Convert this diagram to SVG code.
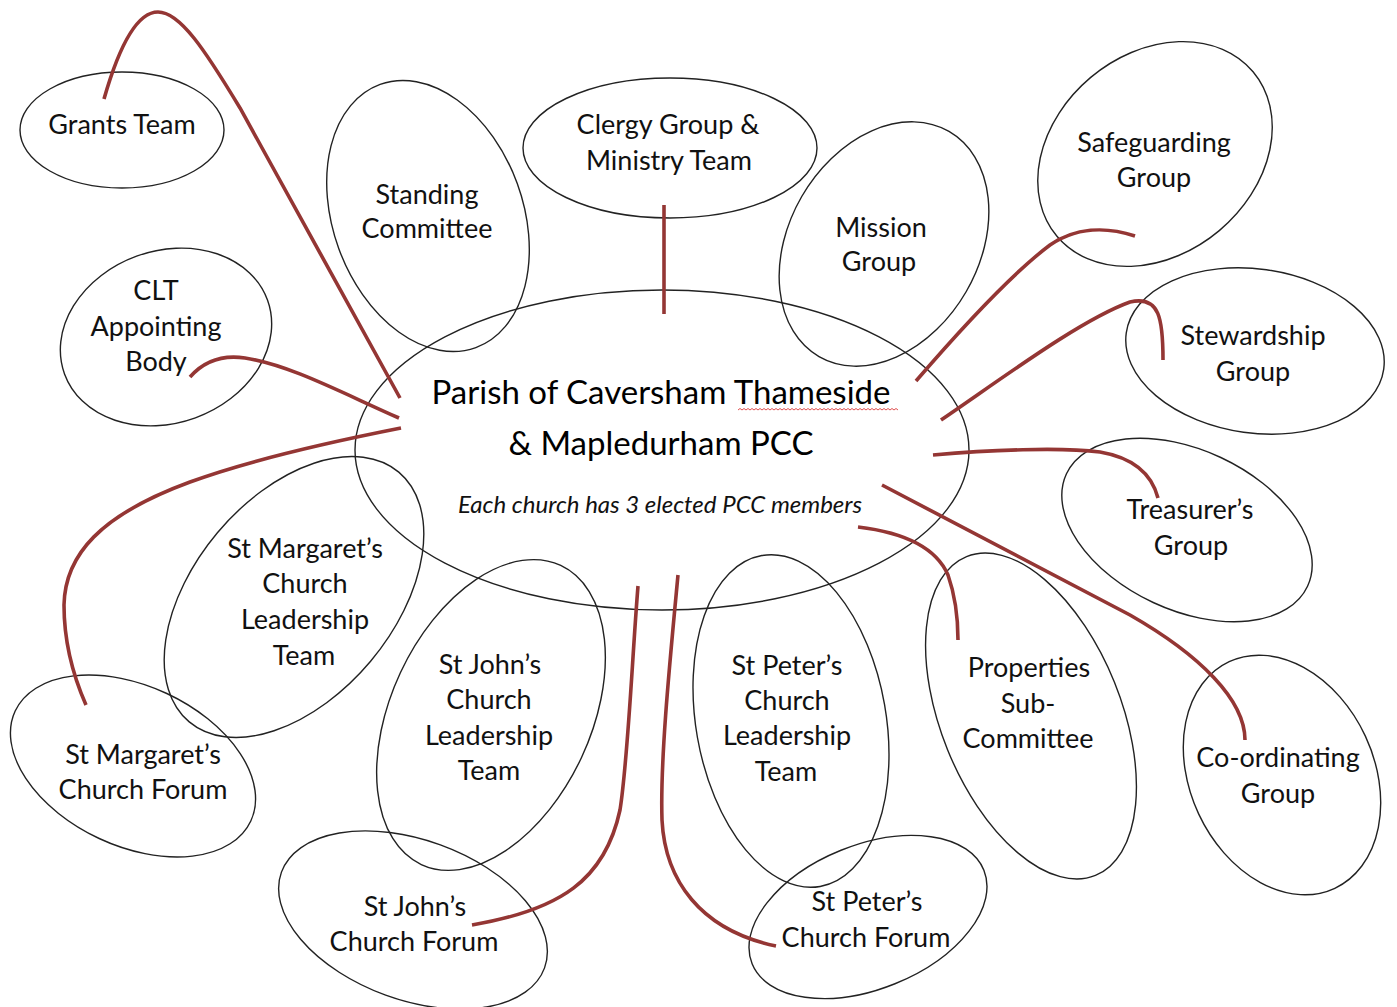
<svg xmlns="http://www.w3.org/2000/svg" width="1397" height="1007" viewBox="0 0 1397 1007">
<style>
.n{fill:none;stroke:#222;stroke-width:1.4}
.t{font-family:Lato,"Open Sans","Liberation Sans",sans-serif;font-size:27px;fill:#111;text-anchor:middle}
.c{fill:none;stroke:#943634;stroke-width:3.6;stroke-linecap:butt}
.h{font-family:Lato,"Open Sans","Liberation Sans",sans-serif;font-size:33px;fill:#000;text-anchor:middle}
.i{font-family:Lato,"Open Sans","Liberation Sans",sans-serif;font-size:24px;font-style:italic;fill:#111;text-anchor:middle}
</style>
<rect width="1397" height="1007" fill="#fff"/>
<g id="pcc">
<ellipse class="n" cx="662" cy="450" rx="307" ry="160"/>
<text class="h" x="661" y="404">Parish of Caversham Thameside</text>
<text class="h" x="661" y="455">&amp; Mapledurham PCC</text>
<text class="i" x="660" y="513">Each church has 3 elected PCC members</text>
<path fill="none" stroke="#e05050" stroke-width="1" d="M738,410 l2,-1.5 l2,1.5 l2,-1.5 l2,1.5 l2,-1.5 l2,1.5 l2,-1.5 l2,1.5 l2,-1.5 l2,1.5 l2,-1.5 l2,1.5 l2,-1.5 l2,1.5 l2,-1.5 l2,1.5 l2,-1.5 l2,1.5 l2,-1.5 l2,1.5 l2,-1.5 l2,1.5 l2,-1.5 l2,1.5 l2,-1.5 l2,1.5 l2,-1.5 l2,1.5 l2,-1.5 l2,1.5 l2,-1.5 l2,1.5 l2,-1.5 l2,1.5 l2,-1.5 l2,1.5 l2,-1.5 l2,1.5 l2,-1.5 l2,1.5 l2,-1.5 l2,1.5 l2,-1.5 l2,1.5 l2,-1.5 l2,1.5 l2,-1.5 l2,1.5 l2,-1.5 l2,1.5 l2,-1.5 l2,1.5 l2,-1.5 l2,1.5 l2,-1.5 l2,1.5 l2,-1.5 l2,1.5 l2,-1.5 l2,1.5 l2,-1.5 l2,1.5 l2,-1.5 l2,1.5 l2,-1.5 l2,1.5 l2,-1.5 l2,1.5 l2,-1.5 l2,1.5 l2,-1.5 l2,1.5 l2,-1.5 l2,1.5 l2,-1.5 l2,1.5 l2,-1.5 l2,1.5 l2,-1.5 l2,1.5"/>
</g>
<g id="grants">
<ellipse class="n" cx="122" cy="130" rx="102" ry="58"/>
<text class="t" x="122" y="134">Grants Team</text>
</g>
<g id="standing">
<ellipse class="n" cx="428" cy="216" rx="95" ry="140" transform="rotate(-20 428 216)"/>
<text class="t" x="427" y="204">Standing</text>
<text class="t" x="427" y="238">Committee</text>
</g>
<g id="clergy">
<ellipse class="n" cx="670" cy="148" rx="147" ry="70"/>
<text class="t" x="668" y="134">Clergy Group &amp;</text>
<text class="t" x="669" y="170">Ministry Team</text>
</g>
<g id="mission">
<ellipse class="n" cx="884" cy="244" rx="95" ry="130" transform="rotate(30 884 244)"/>
<text class="t" x="881" y="237">Mission</text>
<text class="t" x="879" y="271">Group</text>
</g>
<g id="safeguarding">
<ellipse class="n" cx="1155" cy="154" rx="100" ry="128" transform="rotate(50 1155 154)"/>
<text class="t" x="1154" y="152">Safeguarding</text>
<text class="t" x="1154" y="187">Group</text>
</g>
<g id="clt">
<ellipse class="n" cx="166" cy="337" rx="108" ry="86" transform="rotate(-20 166 337)"/>
<text class="t" x="156" y="300">CLT</text>
<text class="t" x="156" y="336">Appointing</text>
<text class="t" x="156" y="371">Body</text>
</g>
<g id="stewardship">
<ellipse class="n" cx="1255" cy="351" rx="130" ry="82" transform="rotate(8 1255 351)"/>
<text class="t" x="1253" y="345">Stewardship</text>
<text class="t" x="1253" y="381">Group</text>
</g>
<g id="treasurer">
<ellipse class="n" cx="1187" cy="530" rx="133" ry="80" transform="rotate(25 1187 530)"/>
<text class="t" x="1190" y="519">Treasurer’s</text>
<text class="t" x="1191" y="555">Group</text>
</g>
<g id="stm-clt">
<ellipse class="n" cx="294" cy="597" rx="100" ry="163" transform="rotate(40 294 597)"/>
<text class="t" x="305" y="558">St Margaret’s</text>
<text class="t" x="305" y="593">Church</text>
<text class="t" x="305" y="629">Leadership</text>
<text class="t" x="304" y="665">Team</text>
</g>
<g id="stm-forum">
<ellipse class="n" cx="133" cy="766" rx="130" ry="80" transform="rotate(25 133 766)"/>
<text class="t" x="143" y="764">St Margaret’s</text>
<text class="t" x="143" y="799">Church Forum</text>
</g>
<g id="stj-clt">
<ellipse class="n" cx="491" cy="715" rx="100" ry="165" transform="rotate(25 491 715)"/>
<text class="t" x="490" y="674">St John’s</text>
<text class="t" x="489" y="709">Church</text>
<text class="t" x="489" y="745">Leadership</text>
<text class="t" x="489" y="780">Team</text>
</g>
<g id="stj-forum">
<ellipse class="n" cx="413" cy="920" rx="140" ry="80" transform="rotate(20 413 920)"/>
<text class="t" x="415" y="916">St John’s</text>
<text class="t" x="414" y="951">Church Forum</text>
</g>
<g id="stp-clt">
<ellipse class="n" cx="791" cy="721" rx="95" ry="168" transform="rotate(-10 791 721)"/>
<text class="t" x="787" y="675">St Peter’s</text>
<text class="t" x="787" y="710">Church</text>
<text class="t" x="787" y="745">Leadership</text>
<text class="t" x="786" y="781">Team</text>
</g>
<g id="stp-forum">
<ellipse class="n" cx="868" cy="917" rx="125" ry="72" transform="rotate(-22 868 917)"/>
<text class="t" x="867" y="911">St Peter’s</text>
<text class="t" x="866" y="947">Church Forum</text>
</g>
<g id="properties">
<ellipse class="n" cx="1031" cy="716" rx="90" ry="172" transform="rotate(-22 1031 716)"/>
<text class="t" x="1029" y="677">Properties</text>
<text class="t" x="1028" y="713">Sub-</text>
<text class="t" x="1028" y="748">Committee</text>
</g>
<g id="coordinating">
<ellipse class="n" cx="1282" cy="775" rx="92" ry="125" transform="rotate(-25 1282 775)"/>
<text class="t" x="1278" y="767">Co-ordinating</text>
<text class="t" x="1278" y="803">Group</text>
</g>
<g id="connectors">
<path class="c" d="M104,99 C118,50 136,12 158,12 C180,12 205,50 240,108 L400,398"/>
<path class="c" d="M190,377 C205,360 225,355 245,358 C290,365 340,392 399,418"/>
<path class="c" d="M401,428 C330,442 250,460 190,482 C100,515 65,555 64,605 C64,645 75,680 86,705"/>
<path class="c" d="M664,205 L664,314"/>
<path class="c" d="M916,381 C960,330 1010,275 1050,245 C1075,228 1105,226 1135,236"/>
<path class="c" d="M941,420 C1000,380 1080,320 1130,302 C1160,295 1163,320 1163,360"/>
<path class="c" d="M933,455 C990,450 1060,447 1100,452 C1135,458 1152,475 1158,498"/>
<path class="c" d="M882,485 L1130,615 C1200,655 1245,700 1245,740"/>
<path class="c" d="M858,527 C900,532 935,545 948,575 C955,595 958,615 958,640"/>
<path class="c" d="M678,575 C670,660 660,760 662,820 C665,880 700,930 776,946"/>
<path class="c" d="M638,586 C632,660 628,760 620,810 C605,880 560,910 472,925"/>
</g>
</svg>
